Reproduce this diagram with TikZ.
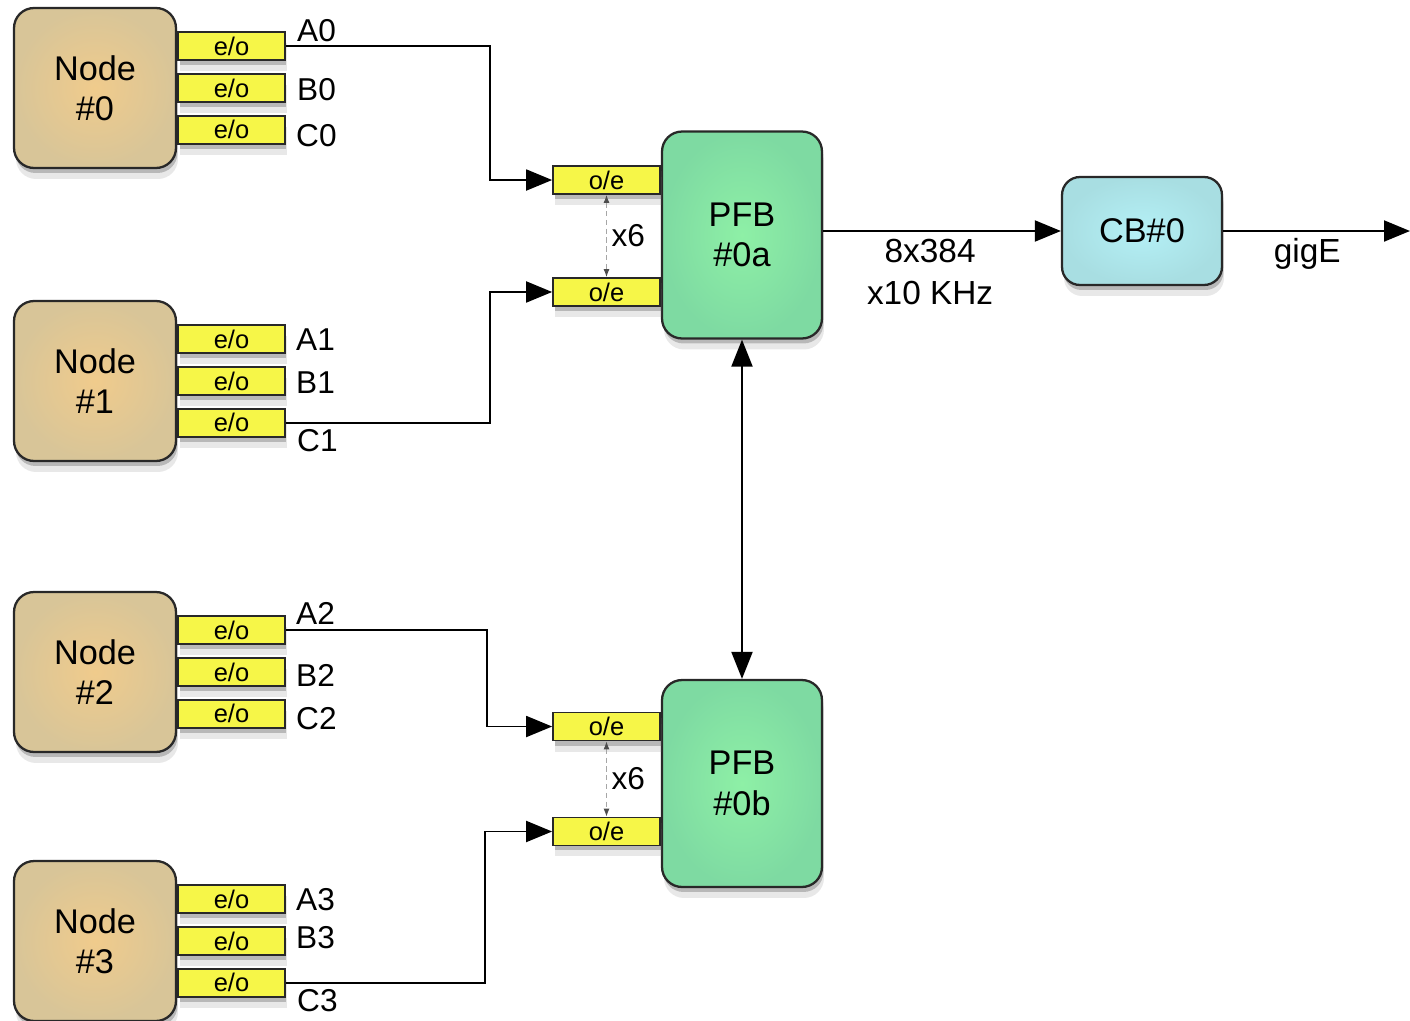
\documentclass[tikz,border=0pt]{standalone}
\usepackage{fontspec}
\setmainfont{Liberation Sans}
\usepackage{tikz}
\usetikzlibrary{positioning,shapes,shadows,arrows.meta}
\definecolor{tanOut}{RGB}{216,197,152}
\definecolor{tanIn}{RGB}{240,203,140}
\definecolor{greenOut}{RGB}{126,218,162}
\definecolor{greenIn}{RGB}{142,240,166}
\definecolor{blueOut}{RGB}{168,222,226}
\definecolor{blueIn}{RGB}{180,240,246}
\definecolor{portYellow}{RGB}{246,246,72}
\definecolor{lineDark}{RGB}{40,40,40}
\tikzset{
  softshadow/.style={
    drop shadow={shadow xshift=0.04cm, shadow yshift=-0.22cm,
      fill=black!60, opacity=0.15},
    drop shadow={shadow xshift=0.03cm, shadow yshift=-0.1cm,
      fill=black!70, opacity=0.3},
  },
  basebox/.style={rectangle, draw=lineDark, line width=1.3pt,
    rounded corners=0.4cm, align=center, softshadow,
    font=\fontsize{19.5}{23}\selectfont},
  nodebox/.style={basebox, minimum width=3.24cm, minimum height=3.2cm,
    inner color=tanIn, outer color=tanOut},
  pfbbox/.style={basebox, minimum width=3.2cm, minimum height=4.14cm,
    inner color=greenIn, outer color=greenOut},
  cbbox/.style={basebox, minimum width=3.2cm, minimum height=2.16cm,
    rounded corners=0.36cm, inner color=blueIn, outer color=blueOut},
  portbox/.style={rectangle, draw=lineDark, line width=1pt, fill=portYellow,
    minimum width=2.14cm, minimum height=0.56cm, inner sep=0pt, softshadow,
    font=\fontsize{14.5}{16}\selectfont},
  lbl/.style={inner sep=0pt, font=\fontsize{18}{22}\selectfont},
  wire/.style={line width=1.1pt, -{Triangle[length=0.52cm,width=0.42cm]}},
  both/.style={line width=1.1pt,
    {Triangle[length=0.54cm,width=0.42cm]}-{Triangle[length=0.54cm,width=0.42cm]}},
  gauge/.style={densely dashed, draw=gray!70, line width=0.6pt,
    {Latex[length=0.16cm,width=0.12cm,color=black!70]}-{Latex[length=0.16cm,width=0.12cm,color=black!70]}},
}
\begin{document}
\begin{tikzpicture}[x=0.02cm, y=-0.02cm]
                    \useasboundingbox (0,0) rectangle (1410,1021);

                    % sending nodes
                    \node (Node0) [nodebox] at (95,88) {Node\\\#0};
                    \node (EOB0) [portbox, right=0pt of Node0] {e/o};
                    \node (EOA0) [portbox, above=0.24cm of EOB0] {e/o};
                    \node (EOC0) [portbox, below=0.24cm of EOB0] {e/o};
                    \node (LabelA0) [lbl, right=0.22cm of EOA0, yshift=0.32cm] {A0};
                    \node (LabelB0) [lbl, right=0.22cm of EOB0, yshift=-0.04cm] {B0};
                    \node (LabelC0) [lbl, right=0.2cm of EOC0, yshift=-0.12cm] {C0};

                    \node (Node1) [nodebox] at (95,381) {Node\\\#1};
                    \node (EOB1) [portbox, right=0pt of Node1] {e/o};
                    \node (EOA1) [portbox, above=0.24cm of EOB1] {e/o};
                    \node (EOC1) [portbox, below=0.24cm of EOB1] {e/o};
                    \node (LabelA1) [lbl, right=0.2cm of EOA1] {A1};
                    \node (LabelB1) [lbl, right=0.2cm of EOB1, yshift=-0.04cm] {B1};
                    \node (LabelC1) [lbl, right=0.22cm of EOC1, yshift=-0.36cm] {C1};

                    \node (Node2) [nodebox] at (95,672) {Node\\\#2};
                    \node (EOB2) [portbox, right=0pt of Node2] {e/o};
                    \node (EOA2) [portbox, above=0.24cm of EOB2] {e/o};
                    \node (EOC2) [portbox, below=0.24cm of EOB2] {e/o};
                    \node (LabelA2) [lbl, right=0.2cm of EOA2, yshift=0.34cm] {A2};
                    \node (LabelB2) [lbl, right=0.2cm of EOB2, yshift=-0.06cm] {B2};
                    \node (LabelC2) [lbl, right=0.2cm of EOC2, yshift=-0.1cm] {C2};

                    \node (Node3) [nodebox] at (95,941) {Node\\\#3};
                    \node (EOB3) [portbox, right=0pt of Node3] {e/o};
                    \node (EOA3) [portbox, above=0.24cm of EOB3] {e/o};
                    \node (EOC3) [portbox, below=0.24cm of EOB3] {e/o};
                    \node (LabelA3) [lbl, right=0.2cm of EOA3] {A3};
                    \node (LabelB3) [lbl, right=0.2cm of EOB3, yshift=0.06cm] {B3};
                    \node (LabelC3) [lbl, right=0.22cm of EOC3, yshift=-0.36cm] {C3};

                    % filter banks and combiner
                    \node (PFBa) [pfbbox] at (742,235) {PFB\\\#0a};
                    \node (OEa1) [portbox, anchor=east] at ([yshift=1.1cm]PFBa.west) {o/e};
                    \node (OEa2) [portbox, anchor=east] at ([yshift=-1.14cm]PFBa.west) {o/e};

                    \node (PFBb) [pfbbox] at (742,783.5) {PFB\\\#0b};
                    \node (OEb1) [portbox, anchor=east] at ([yshift=1.14cm]PFBb.west) {o/e};
                    \node (OEb2) [portbox, anchor=east] at ([yshift=-0.96cm]PFBb.west) {o/e};

                    \node (CB) [cbbox] at (1142,231) {CB\#0};
                    \coordinate (Out) at (1410,231);

                    \draw[wire] (EOA0.east) -- ++(4.08cm,0) |- (OEa1.west);
                    \draw[wire] (EOC1.east) -- ++(4.08cm,0) |- (OEa2.west);
                    \draw[wire] (EOA2.east) -- ++(4.02cm,0) |- (OEb1.west);
                    \draw[wire] (EOC3.east) -- ++(3.98cm,0) |- (OEb2.west);

                    \draw[gauge] (OEa1.south) -- (OEa2.north)
                        node[lbl, midway, right=0.09cm, text=black] {x6};
                    \draw[gauge] (OEb1.south) -- (OEb2.north)
                        node[lbl, midway, right=0.09cm, text=black] {x6};

                    \draw[both] (PFBa) -- (PFBb);

                    \draw[wire] (PFBa.east |- CB.west) -- (CB.west)
                        node[pos=0.45, below=0.15cm, align=center, inner sep=0pt,
                        font=\fontsize{19}{23.8}\selectfont] {8x384\\x10 KHz};
                    \draw[wire] (CB.east) -- (Out)
                        node[pos=0.45, below=0.12cm, inner sep=0pt,
                        font=\fontsize{19}{23}\selectfont] {gigE};
\end{tikzpicture}
\end{document}
